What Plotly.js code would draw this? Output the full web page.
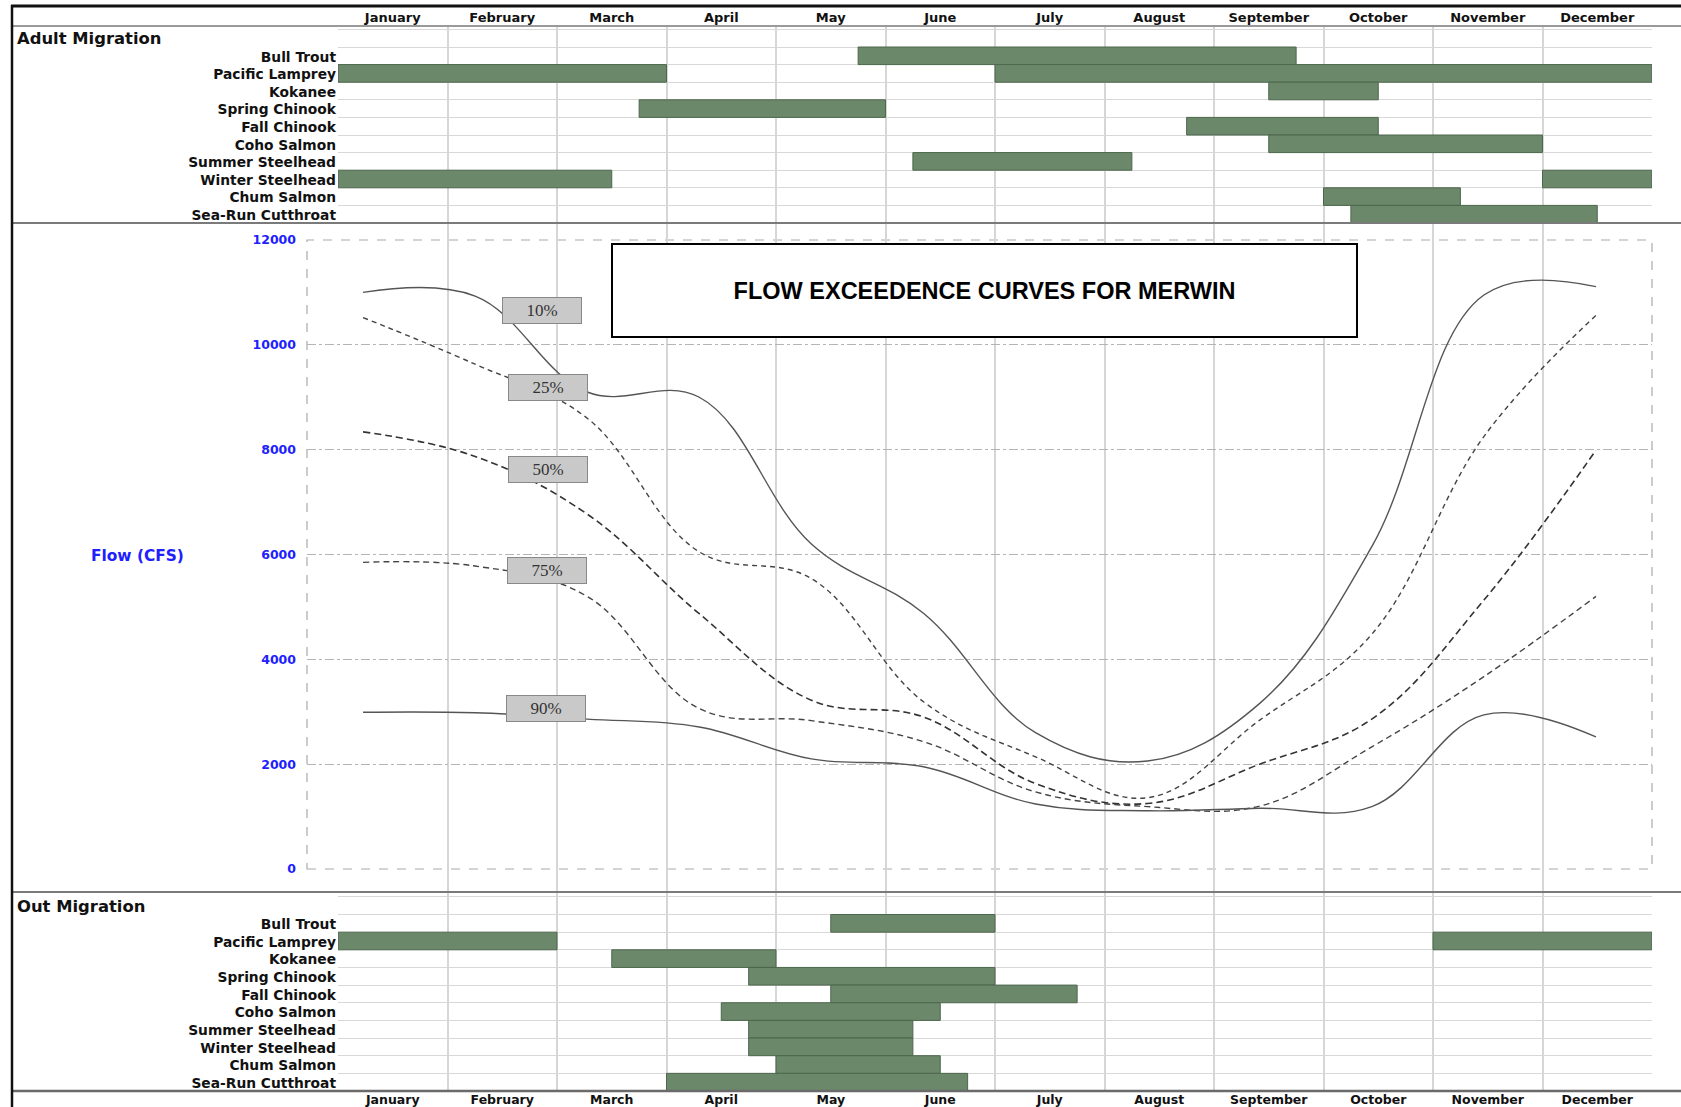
<!DOCTYPE html>
<html>
<head>
<meta charset="utf-8">
<script src="https://cdn.plot.ly/plotly-3.0.1.min.js"></script>
<style>
  html, body { margin: 0; padding: 0; background: #ffffff; }
  #chart { width: 1681px; height: 1107px; }
</style>
</head>
<body>
<div id="chart"></div>
<script>
// ---------- data ----------
const months = ["January","February","March","April","May","June","July","August","September","October","November","December"];
const species = ["Bull Trout","Pacific Lamprey","Kokanee","Spring Chinook","Fall Chinook","Coho Salmon","Summer Steelhead","Winter Steelhead","Chum Salmon","Sea-Run Cutthroat"];

// Adult migration periods (in months from Jan 1)
const adultFish  = ["Bull Trout","Pacific Lamprey","Pacific Lamprey","Kokanee","Spring Chinook","Fall Chinook","Coho Salmon","Summer Steelhead","Winter Steelhead","Winter Steelhead","Chum Salmon","Sea-Run Cutthroat"];
const adultStart = [4.75, 0, 6, 8.5, 2.75, 7.75, 8.5, 5.25, 0, 11, 9, 9.25];
const adultEnd   = [8.75, 3, 12, 9.5, 5, 9.5, 11, 7.25, 2.5, 12, 10.25, 11.5];

// Out migration periods
const outFish  = ["Bull Trout","Pacific Lamprey","Pacific Lamprey","Kokanee","Spring Chinook","Fall Chinook","Coho Salmon","Summer Steelhead","Winter Steelhead","Chum Salmon","Sea-Run Cutthroat"];
const outStart = [4.5, 0, 10, 2.5, 3.75, 4.5, 3.5, 3.75, 3.75, 4, 3];
const outEnd   = [6, 2, 12, 4, 6, 6.75, 5.5, 5.25, 5.25, 5.5, 5.75];

// Flow exceedence curves (CFS), monthly
const flow10 = [11000, 10930, 9100, 9000, 6200, 4880, 2600, 2060, 3160, 6150, 10950, 11110];
const flow25 = [10520, 9630, 8600, 6050, 5540, 3190, 2140, 1360, 2840, 4480, 8250, 10560];
const flow50 = [8340, 7870, 6770, 4870, 3220, 2900, 1630, 1250, 2000, 2860, 5130, 7990];
const flow75 = [5850, 5780, 5200, 3060, 2830, 2430, 1470, 1190, 1200, 2330, 3670, 5200];
const flow90 = [2990, 2980, 2860, 2710, 2100, 1950, 1240, 1110, 1160, 1190, 2940, 2520];
const exceedLabels = ["10%","25%","50%","75%","90%"];
const flowTicks = [0, 2000, 4000, 6000, 8000, 10000, 12000];

// ---------- geometry helpers ----------
const W = 1681, H = 1107;
const px = v => v / W;
const py = v => 1 - v / H;

const SPECIES_FONT = {family: "DejaVu Sans", size: 13.8, color: "#111", weight: "bold"};
const MONTH_FONT = {family: "DejaVu Sans", size: 13, color: "#111", weight: "bold"};
const MONTH_FONT_B = {family: "DejaVu Sans", size: 12.5, color: "#111", weight: "bold"};
const barFill = "#6b886b", barEdge = "#4d674d";

function ganttTrace(fish, start, end, xa, ya) {
  return {
    type: "bar", orientation: "h",
    y: fish.map(f => species.indexOf(f) + 1),
    base: start,
    x: end.map((e, i) => e - start[i]),
    width: 1,
    marker: {color: barFill, line: {color: barEdge, width: 1}},
    xaxis: xa, yaxis: ya, hoverinfo: "skip", showlegend: false
  };
}

const lineDefs = [
  {y: flow10, color: "#555", width: 1.4, dash: "solid"},
  {y: flow25, color: "#444", width: 1.4, dash: "5px,4px"},
  {y: flow50, color: "#333", width: 1.6, dash: "7px,4px"},
  {y: flow75, color: "#444", width: 1.4, dash: "6px,4px"},
  {y: flow90, color: "#555", width: 1.4, dash: "solid"}
];

const traces = [
  // background grid subplot (month boundary lines)
  {type: "scatter", x: [], y: [], xaxis: "x", yaxis: "y", hoverinfo: "skip", showlegend: false},
  ganttTrace(adultFish, adultStart, adultEnd, "x2", "y2"),
  ganttTrace(outFish, outStart, outEnd, "x3", "y3")
];
lineDefs.forEach(d => traces.push({
  type: "scatter", mode: "lines", x: months, y: d.y,
  line: {color: d.color, width: d.width, dash: d.dash, shape: "spline", smoothing: 1.1},
  xaxis: "x4", yaxis: "y4", hoverinfo: "skip", showlegend: false
}));

const monthDomain = [px(338), px(1652)];
const rows = species.map((s, i) => i + 1);

const labelPos = [
  {x: 1.60, y: 10660},
  {x: 1.65, y: 9190},
  {x: 1.65, y: 7620},
  {x: 1.64, y: 5703},
  {x: 1.63, y: 3071}
];

const annotations = [
  {xref: "paper", yref: "paper", x: px(15), y: py(38), xanchor: "left", yanchor: "middle",
   text: "Adult Migration", showarrow: false, font: {family: "DejaVu Sans", size: 16.4, color: "#111", weight: "bold"}},
  {xref: "paper", yref: "paper", x: px(15), y: py(906), xanchor: "left", yanchor: "middle",
   text: "Out Migration", showarrow: false, font: {family: "DejaVu Sans", size: 16.4, color: "#111", weight: "bold"}},
  {xref: "paper", yref: "paper", x: px(137), y: py(556), xanchor: "center", yanchor: "middle",
   text: "Flow (CFS)", showarrow: false, font: {family: "DejaVu Sans", size: 15.4, color: "#2020ff", weight: "bold"}},
  {xref: "paper", yref: "paper", x: px(984.5), y: py(290.7), xanchor: "center", yanchor: "middle",
   text: "FLOW EXCEEDENCE CURVES FOR MERWIN", showarrow: false,
   width: 741, height: 89, borderpad: 1, borderwidth: 2, bordercolor: "#000", bgcolor: "#fff",
   font: {family: "Liberation Sans", size: 23.5, color: "#000", weight: "bold"}}
];
exceedLabels.forEach((t, i) => annotations.push({
  xref: "x4", yref: "y4", x: labelPos[i].x, y: labelPos[i].y, xanchor: "center", yanchor: "middle",
  text: t, showarrow: false, width: 76, height: 23, borderpad: 1, borderwidth: 1,
  bordercolor: "#888", bgcolor: "#c9c9c9",
  font: {family: "Liberation Serif", size: 17, color: "#333"}
}));

const sep = (yv, color, w) => ({type: "line", xref: "paper", yref: "paper",
  x0: px(11), x1: 1, y0: py(yv), y1: py(yv), line: {color: color, width: w}, layer: "above"});

const shapes = [
  sep(6, "#111", 3),
  sep(26, "#9a9a9a", 2),
  sep(223, "#7a7a7a", 2),
  sep(892, "#7a7a7a", 2),
  sep(1091, "#6a6a6a", 2.5),
  {type: "line", xref: "paper", yref: "paper", x0: px(12), x1: px(12), y0: py(5), y1: 0,
   line: {color: "#111", width: 2.5}, layer: "above"},
  {type: "rect", xref: "x4 domain", yref: "y4 domain", x0: 0, x1: 1, y0: 0, y1: 1,
   line: {color: "#aaaaaa", width: 1.2, dash: "dash"}, layer: "below"}
];

const layout = {
  width: W, height: H,
  margin: {l: 0, r: 0, t: 0, b: 0, pad: 0},
  paper_bgcolor: "#ffffff", plot_bgcolor: "rgba(0,0,0,0)",
  showlegend: false, barmode: "overlay",
  font: {family: "DejaVu Sans", color: "#111"},
  // background month grid
  xaxis: {domain: monthDomain, range: [0, 12], anchor: "y",
    tickmode: "array", tickvals: months.map((m, i) => i).concat([months.length]),
    showticklabels: false, ticks: "", showgrid: true, gridcolor: "#d6d6d6", gridwidth: 2,
    zeroline: false, showline: false, fixedrange: true},
  yaxis: {domain: [py(1091), py(26)], range: [0, 1], anchor: "x", visible: false, showgrid: false, zeroline: false},
  // adult migration gantt
  xaxis2: {domain: monthDomain, range: [0, 12], anchor: "y2", side: "top",
    tickmode: "array", tickvals: months.map((m, i) => i + 0.5), ticktext: months,
    tickfont: MONTH_FONT, ticks: "", ticklabelstandoff: 0,
    showgrid: false, zeroline: false, showline: false},
  yaxis2: {domain: [py(223), py(26)], range: [10.5, -0.693], anchor: "x2",
    tickmode: "array", tickvals: rows, ticktext: species, tickfont: SPECIES_FONT,
    ticks: "", ticklabelstandoff: 1, ticklabelshift: -1, showgrid: false, zeroline: false, showline: false,
    minor: {tickmode: "linear", tick0: 0.5, dtick: 1, showgrid: true, gridcolor: "#d8d8d8", gridwidth: 1, ticks: ""}},
  // out migration gantt
  xaxis3: {domain: monthDomain, range: [0, 12], anchor: "y3", side: "bottom",
    tickmode: "array", tickvals: months.map((m, i) => i + 0.5), ticktext: months,
    tickfont: MONTH_FONT_B, ticks: "", ticklabelstandoff: -1,
    showgrid: false, zeroline: false, showline: false},
  yaxis3: {domain: [py(1091), py(892)], range: [10.5, -0.775], anchor: "x3",
    tickmode: "array", tickvals: rows, ticktext: species, tickfont: SPECIES_FONT,
    ticks: "", ticklabelstandoff: 1, ticklabelshift: -1, showgrid: false, zeroline: false, showline: false,
    minor: {tickmode: "linear", tick0: 0.5, dtick: 1, showgrid: true, gridcolor: "#d8d8d8", gridwidth: 1, ticks: ""}},
  // flow chart
  xaxis4: {domain: [px(307), px(1652)], type: "category", categoryarray: months, categoryorder: "array",
    range: [-0.5, 11.5], anchor: "y4", showticklabels: false, ticks: "", showgrid: false,
    zeroline: false, showline: false},
  yaxis4: {domain: [py(869), py(240)], range: [0, 12000], anchor: "x4",
    tickmode: "array", tickvals: flowTicks, ticktext: flowTicks.map(String), ticks: "", ticklabelstandoff: 10,
    tickfont: {family: "DejaVu Sans", size: 12.5, color: "#2020ff", weight: "bold"},
    showgrid: true, gridcolor: "#b4b4b4", gridwidth: 1, griddash: "dashdot",
    zeroline: false, showline: false},
  annotations: annotations,
  shapes: shapes
};

Plotly.newPlot("chart", traces, layout, {staticPlot: true, displayModeBar: false});
</script>
</body>
</html>
